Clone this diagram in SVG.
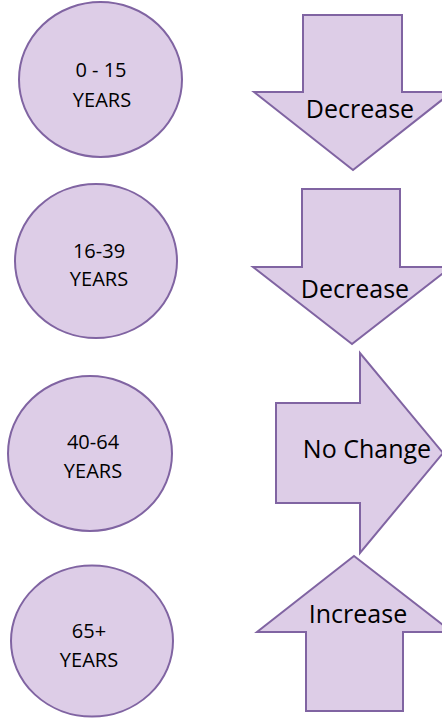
<svg xmlns="http://www.w3.org/2000/svg" width="442" height="718" viewBox="0 0 442 718">
<style>
.shape{fill:#DDCDE7;stroke:#8064A2;stroke-width:2;stroke-linejoin:miter}
.t{font-family:"Open Sans","Noto Sans",sans-serif;fill:#000;text-anchor:middle}
.c{font-size:20px}
.a{font-size:25px}
</style>
<rect width="442" height="718" fill="#fff"/>
<g id="connectors"></g>
<g id="age-0-15">
<ellipse class="shape" cx="100.5" cy="79.5" rx="81.5" ry="77.5"/>
<text class="t c" x="101" y="77">0 - 15</text>
<text class="t c" x="102" y="107">YEARS</text>
</g>
<g id="age-16-39">
<ellipse class="shape" cx="96" cy="261" rx="81" ry="77"/>
<text class="t c" x="99" y="258">16-39</text>
<text class="t c" x="99" y="286">YEARS</text>
</g>
<g id="age-40-64">
<ellipse class="shape" cx="90" cy="453.5" rx="82" ry="77.5"/>
<text class="t c" x="93" y="449">40-64</text>
<text class="t c" x="93" y="478">YEARS</text>
</g>
<g id="age-65plus">
<ellipse class="shape" cx="92" cy="641" rx="81" ry="75.5"/>
<text class="t c" x="89" y="638">65+</text>
<text class="t c" x="89" y="667">YEARS</text>
</g>
<g id="arrow-decrease-1">
<polygon class="shape" points="303,15 402,15 402,92 452,92 353,170 254,92 303,92"/>
<text class="t a" x="360" y="118">Decrease</text>
</g>
<g id="arrow-decrease-2">
<polygon class="shape" points="302,189 400,189 400,267 451,267 352,344 253,267 302,267"/>
<text class="t a" x="355" y="298">Decrease</text>
</g>
<g id="arrow-nochange">
<polygon class="shape" points="276,403 360,403 360,353 443,453 360,553 360,503 276,503"/>
<text class="t a" x="367" y="458">No Change</text>
</g>
<g id="arrow-increase">
<polygon class="shape" points="354,556 452,632 403,632 403,711 306,711 306,632 257,632"/>
<text class="t a" x="358" y="623">Increase</text>
</g>
</svg>
